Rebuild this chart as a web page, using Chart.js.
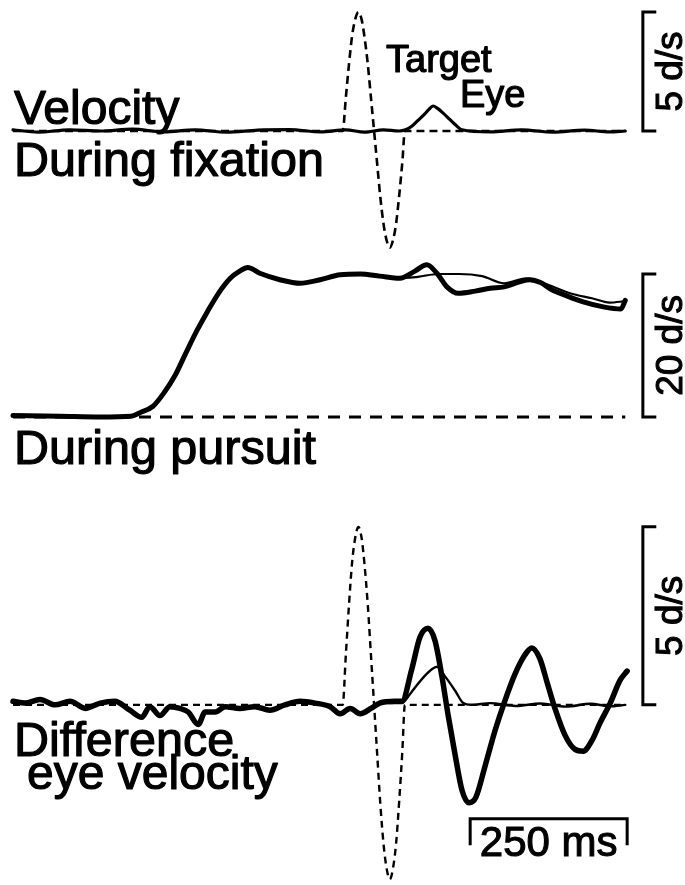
<!DOCTYPE html>
<html>
<head>
<meta charset="utf-8">
<script src="https://cdn.jsdelivr.net/npm/chart.js@4.4.1/dist/chart.umd.min.js"></script>
<style>
  html, body { margin: 0; padding: 0; background: #fff; }
  #fig { display: block; }
</style>
</head>
<body>
<canvas id="fig" width="685" height="885"></canvas>
<script>
// Target velocity perturbation (d/s), same stimulus in top and bottom panels
const targetTimes = [0, 525, 530, 535, 540, 545, 550, 555, 560, 565, 570, 575,
    580, 585, 590, 595, 600, 605, 610, 615, 620, 624, 975];
const targetVel = [0, 0, 1.4, 2.8, 4.0, 4.7, 5.0, 4.7, 3.9, 2.8, 1.4, 0,
    -1.4, -2.8, -3.9, -4.6, -4.9, -4.6, -3.9, -2.7, -1.3, 0, 0];

// Eye velocity during fixation (d/s)
const fixEyeTimes = [0, 40, 90, 140, 190, 240, 290, 340, 390, 440, 490, 530, 560, 590, 615,
    625, 635, 645, 655, 662, 669, 676, 685, 695, 705, 715, 760, 810, 860, 910, 950, 975];
const fixEyeVel = [0.05, -0.05, 0.05, 0, 0.08, -0.04, 0.05, -0.05, 0.04, 0.06, -0.04, 0.05, -0.05, 0.05, 0,
    0.05, 0.2, 0.45, 0.7, 0.9, 1.05, 0.95, 0.75, 0.5, 0.25, 0.05, -0.04, 0.05, -0.05, 0.04, -0.04, 0];

// Eye velocity during pursuit (d/s): perturbed (thick) and control (thin)
const pursuitTimes = [0, 75, 139, 188, 202, 223, 239, 258, 275, 293, 310, 328, 346, 361, 374,
    393, 425, 457, 489, 521, 553, 584, 616, 640, 659, 675, 691, 709, 736, 760, 782, 807, 823,
    840, 858, 880, 908, 940, 968, 975];
const pursuitEye = [0.2, 0.1, 0, 0.1, 0.6, 1.5, 3.2, 5.8, 8.9, 12.1, 14.8, 17.4, 19.4, 20.4, 20.9,
    20.1, 19.2, 18.7, 19.2, 19.9, 20.0, 19.7, 19.4, 20.4, 21.3, 20.1, 18.2, 17.3, 17.6, 18.0, 18.2, 18.9, 19.2,
    18.8, 17.8, 17.0, 16.1, 15.4, 15.1, 16.3];
const controlTimes = [616, 645, 677, 710, 747, 782, 817, 852, 887, 922, 950, 975];
const controlEye = [19.4, 19.6, 20.0, 20.0, 19.7, 18.7, 19.4, 18.5, 17.3, 16.6, 16.0, 16.2];
const zeroTimes = [0, 975];
const zeroVel = [0, 0];

// Difference eye velocity (d/s): perturbation during pursuit (thick), during fixation (thin)
const diffTimes = [0, 19, 43, 67, 91, 115, 139, 162, 186, 205, 218, 234, 250, 266, 279, 295, 306,
    322, 338, 361, 385, 409, 433, 457, 481, 505, 521, 537, 553, 570, 584, 608, 619,
    635, 648, 661, 672, 683, 693, 704, 715, 726, 737, 752, 768, 783, 799, 815, 826,
    839, 851, 863, 879, 895, 908, 922, 935, 951, 967, 978];
const diffPursuit = [0.1, 0.05, 0.15, 0, 0.1, -0.1, 0.05, 0.1, -0.15, -0.35, -0.05, -0.3, -0.05, -0.1, -0.2, -0.55, -0.2,
    -0.2, -0.05, -0.1, -0.05, -0.15, 0, 0.1, 0.05, -0.05, -0.25, -0.1, -0.25, -0.1, 0.05, 0.1, 0.1,
    1.0, 1.9, 2.15, 1.8, 0.8, -0.3, -1.4, -2.4, -2.75, -2.6, -1.7, -0.7, 0.1, 0.85, 1.4, 1.6,
    1.3, 0.6, -0.1, -0.85, -1.25, -1.3, -1.0, -0.5, 0.05, 0.7, 0.95];
const diffFixTimes = [600, 619, 632, 643, 655, 667, 675, 688, 704, 717, 730, 760, 800, 840, 880, 920, 950, 975];
const diffFix = [0.05, 0.05, 0.3, 0.55, 0.8, 1.0, 1.07, 0.8, 0.4, 0.05, 0, 0.05, -0.03, 0.04, -0.05, 0.03, -0.04, 0];

// Scale bars
const ampBars = [
    { axis: 'yTop', from: 0, to: 5, label: '5 d/s' },
    { axis: 'yMid', from: 0, to: 20, label: '20 d/s' },
    { axis: 'yBot', from: 0, to: 5, label: '5 d/s' }
];
const timeBar = { from: 728, to: 978, level: -3.2, tickTo: -3.9, label: '250 ms' };
const ampBarTime = 1003;
const ampBarTick = 19;

const FONT = '"Liberation Sans", Arial, Helvetica, sans-serif';

// Free text labels (pixel positions, left/baseline)
const textLabels = [
    { text: 'Velocity', x: 14, y: 124, size: 48 },
    { text: 'During fixation', x: 14, y: 176, size: 48.5 },
    { text: 'Target', x: 386, y: 72, size: 38 },
    { text: 'Eye', x: 460, y: 107, size: 38 },
    { text: 'During pursuit', x: 14, y: 464, size: 48.5 },
    { text: 'Difference', x: 14, y: 756, size: 48.5 },
    { text: 'eye velocity', x: 27, y: 789, size: 48 }
];

function toPoints(times, values) {
    return times.map((t, i) => ({ x: t, y: values[i] }));
}

function line(data, axis, width, dash, order) {
    return {
        data: data,
        yAxisID: axis,
        showLine: true,
        borderColor: '#000',
        borderWidth: width,
        borderDash: dash || [],
        borderJoinStyle: 'round',
        borderCapStyle: dash ? 'butt' : 'round',
        pointRadius: 0,
        cubicInterpolationMode: 'monotone',
        fill: false,
        order: order
    };
}

// heavier text, like the scanned Helvetica
function heavyText(ctx, text, x, y) {
    ctx.fillText(text, x, y);
    ctx.strokeText(text, x, y);
}

const figurePlugin = {
    id: 'figureText',
    afterDatasetsDraw(chart) {
        const { ctx, scales } = chart;
        const xs = scales.x;
        ctx.save();
        ctx.fillStyle = '#000';
        ctx.strokeStyle = '#000';
        ctx.lineWidth = 3;
        ctx.lineCap = 'square';

        // amplitude brackets
        ampBars.forEach(bar => {
            const ys = scales[bar.axis];
            const x0 = xs.getPixelForValue(ampBarTime);
            const x1 = xs.getPixelForValue(ampBarTime + ampBarTick);
            const yA = ys.getPixelForValue(bar.to);
            const yB = ys.getPixelForValue(bar.from);
            ctx.lineWidth = 3;
            ctx.beginPath();
            ctx.moveTo(x1, yA);
            ctx.lineTo(x0, yA);
            ctx.lineTo(x0, yB);
            ctx.lineTo(x1, yB);
            ctx.stroke();

            ctx.save();
            ctx.translate(x0 + 39, (yA + yB) / 2);
            ctx.rotate(-Math.PI / 2);
            ctx.font = '37px ' + FONT;
            ctx.textAlign = 'center';
            ctx.textBaseline = 'alphabetic';
            ctx.lineWidth = 1.1;
            heavyText(ctx, bar.label, 0, 0);
            ctx.restore();
        });

        // time bracket
        const yb = scales.yBot;
        const tx0 = xs.getPixelForValue(timeBar.from);
        const tx1 = xs.getPixelForValue(timeBar.to);
        const ty = yb.getPixelForValue(timeBar.level);
        const tyEnd = yb.getPixelForValue(timeBar.tickTo);
        ctx.lineWidth = 3;
        ctx.beginPath();
        ctx.moveTo(tx0, tyEnd);
        ctx.lineTo(tx0, ty);
        ctx.lineTo(tx1, ty);
        ctx.lineTo(tx1, tyEnd);
        ctx.stroke();
        ctx.font = '42px ' + FONT;
        ctx.textAlign = 'center';
        ctx.lineWidth = 1.1;
        heavyText(ctx, timeBar.label, (tx0 + tx1) / 2, ty + 37);

        // panel labels
        ctx.textAlign = 'left';
        ctx.lineWidth = 1.2;
        ctx.lineJoin = 'round';
        textLabels.forEach(l => {
            ctx.font = l.size + 'px ' + FONT;
            heavyText(ctx, l.text, l.x, l.y);
        });
        ctx.restore();
    }
};

new Chart(document.getElementById('fig'), {
    type: 'scatter',
    data: {
        datasets: [
            // top panel
            line(toPoints(fixEyeTimes, fixEyeVel), 'yTop', 3.2, null, 1),
            line(toPoints(targetTimes, targetVel), 'yTop', 2.6, [8, 5], 3),
            // middle panel
            line(toPoints(pursuitTimes, pursuitEye), 'yMid', 5, null, 1),
            line(toPoints(controlTimes, controlEye), 'yMid', 2.2, null, 2),
            line(toPoints(zeroTimes, zeroVel), 'yMid', 2.8, [12, 9], 3),
            // bottom panel
            line(toPoints(diffTimes, diffPursuit), 'yBot', 5.5, null, 1),
            line(toPoints(diffFixTimes, diffFix), 'yBot', 2.4, null, 2),
            line(toPoints(targetTimes, targetVel), 'yBot', 2.4, [7, 5], 3)
        ]
    },
    options: {
        responsive: false,
        animation: false,
        devicePixelRatio: 1,
        layout: { padding: 0 },
        plugins: {
            legend: { display: false },
            tooltip: { enabled: false }
        },
        scales: {
            x: { type: 'linear', min: -20.7, max: 1070.1, display: false },
            yTop: { type: 'linear', min: -31.68, max: 5.504, display: false },
            yMid: { type: 'linear', min: -65.46, max: 58.32, display: false },
            yBot: { type: 'linear', min: -5.06, max: 19.8, display: false }
        }
    },
    plugins: [figurePlugin]
});
</script>
</body>
</html>
